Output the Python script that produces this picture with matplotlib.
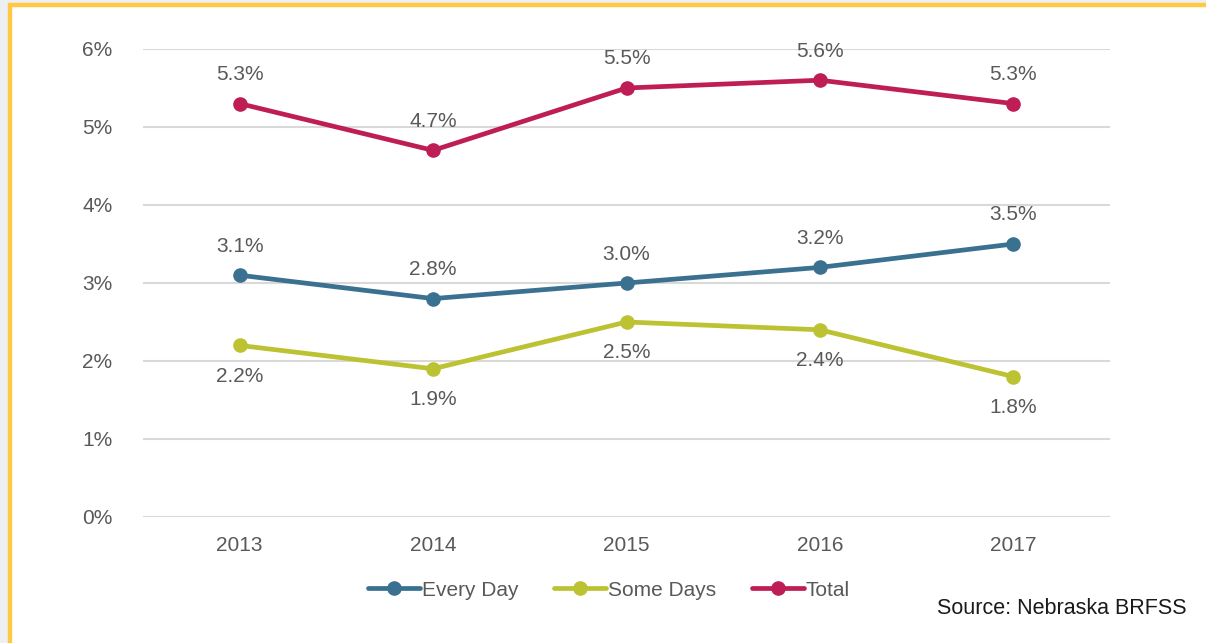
import matplotlib.pyplot as plt
from matplotlib.patches import Rectangle

# data
years = ['2013', '2014', '2015', '2016', '2017']
every_day = [3.1, 2.8, 3.0, 3.2, 3.5]
some_days = [2.2, 1.9, 2.5, 2.4, 1.8]
total = [5.3, 4.7, 5.5, 5.6, 5.3]
y_ticks = [0, 1, 2, 3, 4, 5, 6]

plt.rcParams['font.family'] = ['Liberation Sans', 'DejaVu Sans']
grey_text = '#595959'

fig = plt.figure(figsize=(12.06, 6.43), dpi=100)
# background frame: light grey outside, yellow border on top/left
fig.patches.append(Rectangle((0, 0), 1, 1, transform=fig.transFigure,
                             facecolor='#EDF0F2', edgecolor='none', zorder=-3))
fig.patches.append(Rectangle((10 / 1206, -0.05), 1.1, 1 - 5 / 643 + 0.05,
                             transform=fig.transFigure, facecolor='white',
                             edgecolor='#FFC845', linewidth=3.2, zorder=-2))

ax = fig.add_axes([143 / 1206, 1 - 517 / 643, (1110 - 143) / 1206, (517 - 49) / 643])
ax.set_facecolor('none')

x = list(range(len(years)))
series = [
    ('Every Day', every_day, '#3A7090', 'above'),
    ('Some Days', some_days, '#BDC232', 'below'),
    ('Total', total, '#BE1E55', 'above'),
]
for name, vals, col, pos in series:
    ax.plot(x, vals, color=col, linewidth=3.4, marker='o', markersize=9.5,
            label=name, solid_capstyle='round', zorder=3)
    off = 29 if pos == 'above' else -31
    for xi, v in zip(x, vals):
        ax.annotate('%.1f%%' % v, (xi, v), xytext=(0, off), textcoords='offset pixels',
                    ha='center', va='center', fontsize=15, color=grey_text)

ax.set_xlim(-0.5, 4.5)
ax.set_ylim(0, 6)
ax.set_yticks(y_ticks)
ax.set_yticklabels(['%d%%' % t for t in y_ticks])
ax.set_xticks(x)
ax.set_xticklabels(years)
ax.tick_params(axis='both', length=0, labelsize=15, labelcolor=grey_text)
ax.tick_params(axis='y', pad=22)
ax.tick_params(axis='x', pad=14)
ax.grid(axis='y', color='#D9D9D9', linewidth=1.5)
ax.set_axisbelow(True)
for s in ax.spines.values():
    s.set_visible(False)

leg = fig.legend(loc='center', bbox_to_anchor=(609 / 1206, 1 - 590 / 643), ncol=3,
                 frameon=False, fontsize=15, handlelength=2.5, handletextpad=0.1,
                 columnspacing=1.7, labelcolor=grey_text)

fig.text(1187 / 1206, 1 - 609 / 643, 'Source: Nebraska BRFSS', ha='right', va='center',
         fontsize=15.5, color='#1a1a1a', family=['Liberation Sans Narrow', 'Liberation Sans'])

fig.savefig('out.png', dpi=100)
